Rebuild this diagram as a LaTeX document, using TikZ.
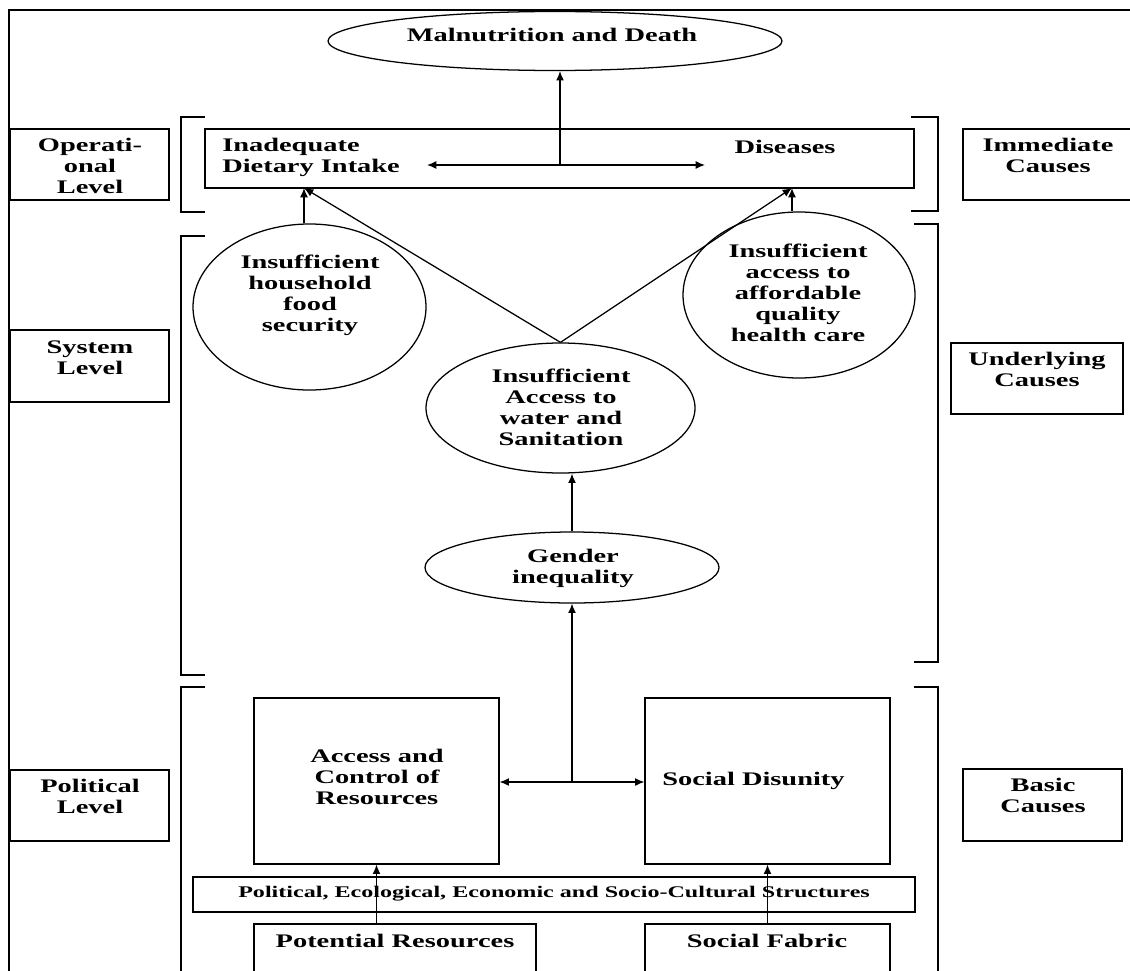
\documentclass[tikz,border=0pt]{standalone}
\usepackage{fontspec}
\setmainfont{Liberation Serif}[FakeStretch=1.48]
\usetikzlibrary{shapes.geometric,arrows.meta}
\newdimen\pxu
\pxu=0.75pt
\begin{document}
\begin{tikzpicture}[x=0.75pt,y=-0.75pt,
  shp/.style={draw, line width=0.95pt, inner sep=0pt},
  oval/.style={shp, ellipse},
  rbox/.style={shp, rectangle},
  txt/.style={font=\bfseries\fontsize{14.4}{15.75}\selectfont, inner sep=0pt, align=center,
    execute at begin node=\strut, execute at end node=\strut},
  smalltxt/.style={txt, font=\bfseries\fontsize{12.2}{14}\selectfont},
  brk/.style={line width=0.95pt},
  frame/.style={line width=1.8pt},
  arr/.style={line width=0.95pt, -{Latex[length=7pt,width=6pt]}},
  dbl/.style={line width=0.95pt, {Latex[length=7pt,width=6pt]}-{Latex[length=7pt,width=6pt]}}]
\useasboundingbox (0,0) rectangle (1130,970);
\fill[white] (0,0) rectangle (1130,970);
\clip (0,0) rectangle (1130,970);

% outer frame
\draw[frame] (9,10) rectangle (1145,990);

% shapes
\node[oval, minimum width=454\pxu, minimum height=59\pxu] (malnut) at (555,41) {};
\node[rbox, minimum width=709\pxu, minimum height=59\pxu] (opbox) at (559.5,158.5) {};
\node[rbox, minimum width=159\pxu, minimum height=71\pxu] (oplabel) at (89.5,164.5) {};
\node[rbox, minimum width=180\pxu, minimum height=71\pxu] (immlabel) at (1053,164.5) {};
\node[rbox, minimum width=159\pxu, minimum height=72\pxu] (syslabel) at (89.5,366) {};
\node[rbox, minimum width=172\pxu, minimum height=71\pxu] (undlabel) at (1037,378.5) {};
\node[rbox, minimum width=159\pxu, minimum height=71\pxu] (pollabel) at (89.5,805.5) {};
\node[rbox, minimum width=159\pxu, minimum height=72\pxu] (baslabel) at (1042.5,805) {};
\node[oval, minimum width=233\pxu, minimum height=166\pxu] (food) at (309.5,307) {};
\node[oval, minimum width=232\pxu, minimum height=166\pxu] (health) at (799,295) {};
\node[oval, minimum width=269\pxu, minimum height=130\pxu] (water) at (560.5,408) {};
\node[oval, minimum width=294\pxu, minimum height=71\pxu] (gender) at (572,567.5) {};
\node[rbox, minimum width=245\pxu, minimum height=166\pxu] (access) at (376.5,781) {};
\node[rbox, minimum width=245\pxu, minimum height=166\pxu] (social) at (767.5,781) {};
\node[rbox, minimum width=722\pxu, minimum height=35\pxu] (struct) at (554,894.5) {};
\node[rbox, minimum width=282\pxu, minimum height=80\pxu] (potential) at (395,964) {};
\node[rbox, minimum width=245\pxu, minimum height=80\pxu] (fabric) at (767.5,964) {};

% brackets grouping the levels
\draw[brk] (205,117) -- (181,117) -- (181,212) -- (205,212);
\draw[brk] (911,117) -- (938,117) -- (938,211) -- (911,211);
\draw[brk] (205,236) -- (181,236) -- (181,675) -- (205,675);
\draw[brk] (914,224) -- (938,224) -- (938,662) -- (914,662);
\draw[brk] (205,687) -- (181,687) -- (181,990);
\draw[brk] (914,687) -- (938,687) -- (938,990);

% texts
\node[txt] (tmalnut) at (552,37) {Malnutrition and Death};
\node[txt, anchor=west, align=left] (tinad) at (222,158.8) {Inadequate\\Dietary Intake};
\node[txt] (tdis) at (785,148.8) {Diseases};
\node[txt] (top) at (90,168.8) {Operati-\\onal\\Level};
\node[txt] (timm) at (1048,158.8) {Immediate\\Causes};
\node[txt] (tsys) at (90,360.8) {System\\Level};
\node[txt] (tund) at (1037,372.8) {Underlying\\Causes};
\node[txt] (tpol) at (90,799.3) {Political\\Level};
\node[txt] (tbas) at (1043,798.3) {Basic\\Causes};
\node[txt] (tfood) at (310,296.8) {Insufficient\\household\\food\\security};
\node[txt] (thealth) at (798,296.3) {Insufficient\\access to\\affordable\\quality\\health care};
\node[txt] (twater) at (561,410.8) {Insufficient\\Access to\\water and\\Sanitation};
\node[txt] (tgender) at (573,569.8) {Gender\\inequality};
\node[txt] (taccess) at (377,779.8) {Access and\\Control of\\Resources};
\node[txt, anchor=west] (tsocial) at (662,780.8) {Social Disunity};
\node[smalltxt] (tstruct) at (554,893.3) {Political, Ecological, Economic and Socio-Cultural Structures};
\node[txt] (tpot) at (395,942.8) {Potential Resources};
\node[txt] (tfab) at (767,942.8) {Social Fabric};

% connectors
\coordinate (topjoin) at (560,165);
\coordinate (tl) at (427,165);
\coordinate (tr) at (705,165);
\coordinate (dl) at (304,188);
\coordinate (dr) at (792,188);
\coordinate (botjoin) at (572,782);

\draw[dbl] (tl) -- (tr);
\draw[arr] (topjoin) -- (topjoin |- malnut.south);
\draw[arr] (food.north -| dl) -- (dl);
\draw[arr] (health.north -| dr) -- (dr);
\draw[arr] (water.north) -- (dl);
\draw[arr] (water.north) -- (dr);
\draw[arr] (gender.north) -- (gender.north |- water.south);
\draw[arr] (botjoin) -- (gender.south);
\draw[arr] (botjoin) -- (access.east |- botjoin);
\draw[arr] (botjoin) -- (social.west |- botjoin);
\draw[arr] (potential.north -| access.south) -- (access.south);
\draw[arr] (fabric.north) -- (social.south);
\end{tikzpicture}
\end{document}
